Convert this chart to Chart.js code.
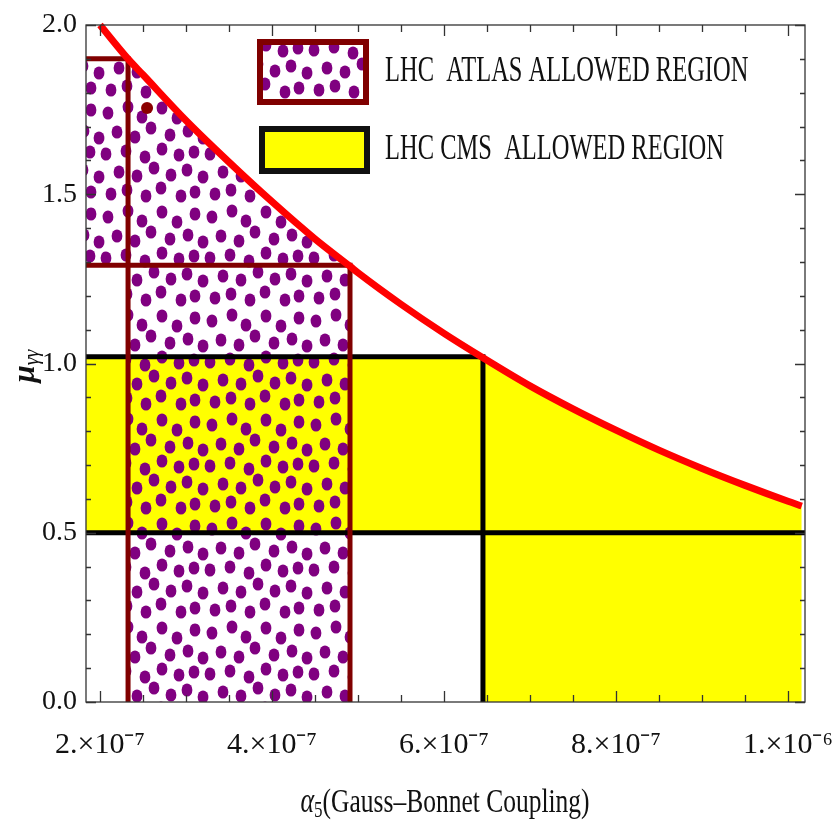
<!DOCTYPE html>
<html>
<head>
<meta charset="utf-8">
<script src="https://cdn.jsdelivr.net/npm/chart.js@4.4.0/dist/chart.umd.min.js"></script>
<style>
html, body { margin: 0; padding: 0; background: #fff; }
#wrap { width: 836px; height: 826px; }
</style>
</head>
<body>
<div id="wrap"><canvas id="chart" width="836" height="826"></canvas></div>
<script>
// upper bound curve
var curveX = [2.0e-7, 2.326e-7, 2.5e-7, 3.0e-7, 3.5e-7, 4.0e-7, 4.5e-7, 4.907e-7, 5.0e-7, 5.5e-7, 6.0e-7, 6.453e-7, 7.0e-7, 7.5e-7, 8.0e-7, 8.5e-7, 9.0e-7, 9.5e-7, 1.0e-6, 1.016e-6];
var curveY = [2.00, 1.90, 1.853, 1.718, 1.595, 1.478, 1.368, 1.287, 1.268, 1.175, 1.089, 1.017, 0.934, 0.866, 0.803, 0.744, 0.690, 0.640, 0.593, 0.579];

// plot range
var xRange = [1.837e-7, 1.0198e-6];
var yRange = [0, 2];

// ATLAS region: x edges and y levels
var atlasX = [2.326e-7, 4.907e-7];
var atlasStripY = [1.29, 1.90];
var atlasStray = { x: 2.547e-7, y: 1.755 };

// CMS region: x edge and band
var cmsX = 6.453e-7;
var cmsBand = [0.5, 1.02];

// ticks
var xTickValues = [2e-7, 4e-7, 6e-7, 8e-7, 1e-6];
var xTickLabels = ['2.\u00d710\u207b\u2077', '4.\u00d710\u207b\u2077', '6.\u00d710\u207b\u2077', '8.\u00d710\u207b\u2077', '1.\u00d710\u207b\u2076'];
var xMinorTicks = [2.5e-7, 3e-7, 3.5e-7, 4.5e-7, 5e-7, 5.5e-7, 6.5e-7, 7e-7, 7.5e-7, 8.5e-7, 9e-7, 9.5e-7];
var yTickValues = [0, 0.5, 1.0, 1.5, 2.0];
var yMinorTicks = [0.1, 0.2, 0.3, 0.4, 0.6, 0.7, 0.8, 0.9, 1.1, 1.2, 1.3, 1.4, 1.6, 1.7, 1.8, 1.9];

var legendLabels = ['LHC  ATLAS ALLOWED REGION', 'LHC CMS  ALLOWED REGION'];

var SERIF = '"Liberation Serif", "Times New Roman", serif';
var YELLOW = '#ffff00';
var PURPLE = '#800080';
var MAROON = '#800000';

// dotted fill used for the ATLAS region
function makeDotPattern() {
    var tile = document.createElement('canvas');
    tile.width = 104;
    tile.height = 104;
    var t = tile.getContext('2d');
    var dots = [
        [4, 9], [24, 3], [38, 13], [58, 4], [73, 14], [91, 6],
        [13, 28], [31, 33], [47, 24], [66, 31], [84, 27], [99, 34],
        [2, 50], [22, 47], [41, 53], [58, 45], [75, 51], [90, 48],
        [15, 68], [33, 72], [50, 64], [67, 71], [83, 66], [99, 73],
        [7, 90], [23, 86], [42, 92], [57, 84], [77, 92], [91, 88]
    ];
    t.fillStyle = PURPLE;
    dots.forEach(function (d) {
        [-104, 0, 104].forEach(function (dx) {
            [-104, 0, 104].forEach(function (dy) {
                t.beginPath();
                t.ellipse(d[0] + dx, d[1] + dy, 5.4, 6.6, 0, 0, Math.PI * 2);
                t.fill();
            });
        });
    });
    return t.createPattern(tile, 'repeat');
}

var dotPattern = makeDotPattern();

function pts(xs, ys) {
    return xs.map(function (x, i) { return { x: x, y: ys[i] }; });
}

function curveBetween(a, b) {
    var out = [];
    curveX.forEach(function (x, i) {
        if (x >= a - 1e-12 && x <= b + 1e-12) out.push({ x: x, y: curveY[i] });
    });
    return out;
}

var frameTicks = {
    id: 'frameTicks',
    afterDatasetsDraw: function (chart) {
        var ctx = chart.ctx, a = chart.chartArea;
        var x = chart.scales.x, y = chart.scales.y;
        ctx.save();
        ctx.strokeStyle = '#333';
        ctx.lineWidth = 1.3;
        ctx.strokeRect(a.left, a.top, a.right - a.left, a.bottom - a.top);
        ctx.beginPath();
        function xt(v, len) {
            var px = Math.round(x.getPixelForValue(v)) + 0.5;
            ctx.moveTo(px, a.bottom); ctx.lineTo(px, a.bottom - len);
            ctx.moveTo(px, a.top); ctx.lineTo(px, a.top + len);
        }
        function yt(v, len) {
            var py = Math.round(y.getPixelForValue(v)) + 0.5;
            ctx.moveTo(a.left, py); ctx.lineTo(a.left + len, py);
            ctx.moveTo(a.right, py); ctx.lineTo(a.right - len, py);
        }
        xTickValues.forEach(function (v) { xt(v, 11); });
        xMinorTicks.forEach(function (v) { xt(v, 7); });
        yTickValues.forEach(function (v) { yt(v, 10); });
        yMinorTicks.forEach(function (v) { yt(v, 5); });
        ctx.stroke();
        ctx.restore();
    }
};

var extras = {
    id: 'extras',
    afterDraw: function (chart) {
        var ctx = chart.ctx;
        ctx.save();
        // legend swatches
        ctx.fillStyle = '#fff';
        ctx.fillRect(260, 42, 106, 60);
        ctx.fillStyle = dotPattern;
        ctx.fillRect(260, 42, 106, 60);
        ctx.strokeStyle = MAROON;
        ctx.lineWidth = 6;
        ctx.strokeRect(260, 42, 106, 60);
        ctx.fillStyle = YELLOW;
        ctx.fillRect(262, 129, 105, 42);
        ctx.strokeStyle = '#111';
        ctx.strokeRect(262, 129, 105, 42);

        // legend text (stretched like the original)
        ctx.fillStyle = '#111';
        ctx.textBaseline = 'middle';
        ctx.font = '24.5px ' + SERIF;
        [72, 150].forEach(function (cy, i) {
            ctx.save();
            ctx.translate(385, cy);
            ctx.scale(1, 1.45);
            ctx.fillText(legendLabels[i], 0, 0);
            ctx.restore();
        });

        // x axis title: alpha_5(Gauss-Bonnet Coupling)
        var parts = [
            { t: '\u03b1', f: 'italic 26px ' + SERIF, dy: 0 },
            { t: '5', f: '17px ' + SERIF, dy: 6 },
            { t: '(Gauss\u2013Bonnet Coupling)', f: '25.5px ' + SERIF, dy: 0 }
        ];
        var w = 0;
        parts.forEach(function (p) { ctx.font = p.f; p.w = ctx.measureText(p.t).width; w += p.w; });
        ctx.save();
        ctx.translate(445 - w / 2, 803);
        ctx.scale(1, 1.35);
        var cx = 0;
        parts.forEach(function (p) {
            ctx.font = p.f;
            ctx.fillText(p.t, cx, p.dy);
            cx += p.w;
        });
        ctx.restore();

        // y axis title: mu_{gamma gamma}
        ctx.save();
        ctx.translate(26, 366);
        ctx.rotate(-Math.PI / 2);
        var mu = { t: '\u03bc', f: 'bold italic 31px ' + SERIF };
        var gg = { t: '\u03b3\u03b3', f: 'italic 20px ' + SERIF };
        ctx.font = mu.f; var mw = ctx.measureText(mu.t).width;
        ctx.font = gg.f; var gw = ctx.measureText(gg.t).width;
        var sx = -(mw + gw) / 2;
        ctx.font = mu.f;
        ctx.fillText(mu.t, sx, 0);
        ctx.font = gg.f;
        ctx.fillText(gg.t, sx + mw, 7);
        ctx.restore();

        ctx.restore();
    }
};

Chart.defaults.font.family = SERIF;
Chart.defaults.color = '#111';

new Chart(document.getElementById('chart'), {
    type: 'line',
    data: {
        datasets: [
            {   // red upper bound
                data: pts(curveX, curveY),
                borderColor: '#ff0000',
                borderWidth: 7,
                cubicInterpolationMode: 'monotone',
                clip: 10,
                order: 1
            },
            {   // stray marker
                data: [atlasStray],
                showLine: false,
                pointRadius: 6,
                pointBackgroundColor: '#8b0000',
                pointBorderWidth: 0,
                order: 2
            },
            {   // ATLAS outlines
                data: [
                    { x: xRange[0], y: atlasStripY[1] }, { x: atlasX[0], y: atlasStripY[1] }, { x: atlasX[0], y: 0 },
                    { x: atlasX[0], y: null },
                    { x: xRange[0], y: atlasStripY[0] }, { x: atlasX[1], y: atlasStripY[0] }, { x: atlasX[1], y: 0 }
                ],
                borderColor: MAROON,
                borderWidth: 5,
                borderJoinStyle: 'miter',
                spanGaps: false,
                order: 3
            },
            {   // CMS outlines
                data: [
                    { x: xRange[0], y: cmsBand[1] }, { x: cmsX, y: cmsBand[1] }, { x: cmsX, y: 0 },
                    { x: cmsX, y: null },
                    { x: xRange[0], y: cmsBand[0] }, { x: xRange[1], y: cmsBand[0] }
                ],
                borderColor: '#000',
                borderWidth: 5,
                borderJoinStyle: 'miter',
                spanGaps: false,
                order: 4
            },
            {   // ATLAS dotted strip on the left
                data: [{ x: xRange[0], y: atlasStripY[1] }, { x: atlasX[0], y: atlasStripY[1] }],
                borderWidth: 0,
                borderColor: 'rgba(0,0,0,0)',
                backgroundColor: dotPattern,
                fill: { value: atlasStripY[0] },
                order: 5
            },
            {   // ATLAS dotted region under the curve
                data: curveBetween(atlasX[0], atlasX[1]),
                borderWidth: 0,
                borderColor: 'rgba(0,0,0,0)',
                backgroundColor: dotPattern,
                cubicInterpolationMode: 'monotone',
                fill: { value: 0 },
                order: 5
            },
            {   // CMS band
                data: [{ x: xRange[0], y: cmsBand[1] }, { x: cmsX, y: cmsBand[1] }],
                borderWidth: 0,
                borderColor: 'rgba(0,0,0,0)',
                backgroundColor: YELLOW,
                fill: { value: cmsBand[0] },
                order: 6
            },
            {   // CMS region under the curve
                data: curveBetween(cmsX, 1.1e-6),
                borderWidth: 0,
                borderColor: 'rgba(0,0,0,0)',
                backgroundColor: YELLOW,
                cubicInterpolationMode: 'monotone',
                fill: { value: 0 },
                order: 6
            }
        ]
    },
    options: {
        responsive: false,
        animation: false,
        events: [],
        layout: { padding: { left: 0, top: 25, right: 31, bottom: 0 } },
        elements: { point: { radius: 0 }, line: { tension: 0 } },
        plugins: { legend: { display: false }, tooltip: { enabled: false } },
        scales: {
            x: {
                type: 'linear',
                min: xRange[0],
                max: xRange[1],
                afterBuildTicks: function (s) { s.ticks = xTickValues.map(function (v) { return { value: v }; }); },
                afterFit: function (s) { s.height = 124; s.paddingLeft = 0; s.paddingRight = 0; },
                grid: { display: false, drawTicks: false },
                border: { display: false },
                ticks: {
                    autoSkip: false,
                    maxRotation: 0,
                    padding: 25,
                    font: { size: 30 },
                    color: '#111',
                    callback: function (v, i) { return xTickLabels[i]; }
                }
            },
            y: {
                type: 'linear',
                min: yRange[0],
                max: yRange[1],
                afterBuildTicks: function (s) { s.ticks = yTickValues.map(function (v) { return { value: v }; }); },
                afterFit: function (s) { s.width = 86; s.paddingTop = 0; s.paddingBottom = 0; },
                grid: { display: false, drawTicks: false },
                border: { display: false },
                ticks: {
                    padding: 9,
                    font: { size: 28 },
                    color: '#111',
                    callback: function (v) { return v.toFixed(1); }
                }
            }
        }
    },
    plugins: [frameTicks, extras]
});
</script>
</body>
</html>
